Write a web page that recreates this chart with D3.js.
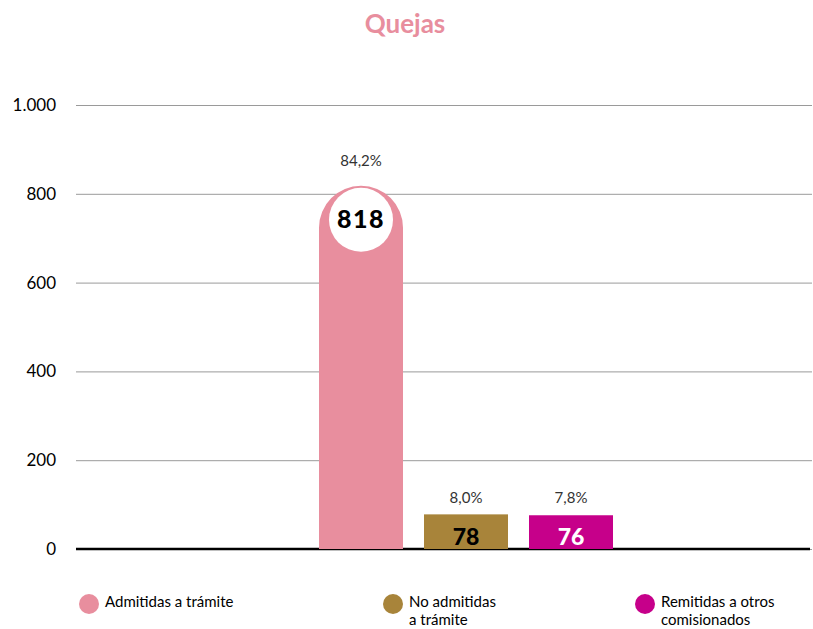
<!DOCTYPE html>
<html>
<head>
<meta charset="utf-8">
<script src="https://cdn.jsdelivr.net/npm/d3@7"></script>
<style>
  body { margin: 0; background: #fff; }
  text { font-family: Lato, "Open Sans", sans-serif; }
</style>
</head>
<body>
<div id="chart"></div>
<script>
const width = 813
const height = 629
const margins = ({ top: 105, right: 1, bottom: 80, left: 76 })

const categories = ["Admitidas a trámite", "No admitidas a trámite", "Remitidas a otros comisionados"]
const legendLines = [["Admitidas a trámite"], ["No admitidas", "a trámite"], ["Remitidas a otros", "comisionados"]]
const values = [818, 78, 76]
const percents = ["84,2%", "8,0%", "7,8%"]
const colors = ["#E88E9E", "#A8843A", "#C6008A"]
const labelColors = ["#000", "#000", "#fff"]
const yTicks = [0, 200, 400, 600, 800, 1000]

const svg = d3.select("#chart")
    .append("svg")
    .attr("width", width)
    .attr("height", height)

const y = d3.scaleLinear()
    .domain([0, 1000])
    .range([height - margins.bottom, margins.top])

const x = d3.scaleBand()
    .domain(categories)
    .range([319, 613])
    .paddingInner(0.2)

// title
svg.append("text")
    .text("Quejas")
    .attr("x", 405)
    .attr("y", 33)
    .attr("text-anchor", "middle")
    .attr("font-size", 26)
    .attr("font-weight", "bold")
    .attr("fill", "#E88E9E")

// grid + ticks
const yAxis = d3.axisLeft(y)
    .tickValues(yTicks)
    .tickSize(-(width - margins.left - margins.right))
    .tickPadding(20)
    .tickFormat(d => d3.format(",")(d).replace(/,/g, "."))

const axisG = svg.append("g")
    .attr("transform", `translate(${margins.left},0)`)
    .call(yAxis)
axisG.select(".domain").remove()
axisG.selectAll(".tick line")
    .attr("stroke", "#9a9a9a")
    .attr("stroke-width", 1)
axisG.selectAll(".tick text")
    .attr("font-size", 17)
    .attr("fill", "#000")
    .attr("font-family", "Lato, sans-serif")

// baseline
svg.append("line")
    .attr("x1", margins.left)
    .attr("x2", width - 3)
    .attr("y1", y(0))
    .attr("y2", y(0))
    .attr("stroke", "#000")
    .attr("stroke-width", 2.5)

// bars
const bw = x.bandwidth()
categories.forEach((c, i) => {
    const x0 = x(c)
    const top = y(values[i])
    const base = y(0)
    if (i === 0) {
        const r = bw / 2
        const p = d3.path()
        p.moveTo(x0, base)
        p.lineTo(x0, top + r)
        p.arc(x0 + r, top + r, r, Math.PI, 0)
        p.lineTo(x0 + bw, base)
        p.closePath()
        svg.append("path")
            .attr("d", p.toString())
            .attr("fill", colors[i])
        svg.append("circle")
            .attr("cx", x0 + r)
            .attr("cy", top + r - 8)
            .attr("r", 32)
            .attr("fill", "#fff")
        svg.append("text")
            .text(values[i])
            .attr("x", x0 + r)
            .attr("y", top + r)
            .attr("text-anchor", "middle")
            .attr("font-size", 25)
            .attr("font-weight", 900)
            .attr("letter-spacing", 1.5)
            .attr("fill", labelColors[i])
        svg.append("text")
            .text(percents[i])
            .attr("x", x0 + r)
            .attr("y", top - 20)
            .attr("text-anchor", "middle")
            .attr("font-size", 15)
            .attr("fill", "#333")
    } else {
        svg.append("rect")
            .attr("x", x0)
            .attr("y", top)
            .attr("width", bw)
            .attr("height", base - top)
            .attr("fill", colors[i])
        svg.append("text")
            .text(values[i])
            .attr("x", x0 + bw / 2)
            .attr("y", base - 4)
            .attr("text-anchor", "middle")
            .attr("font-size", 23)
            .attr("font-weight", 900)
            .attr("fill", labelColors[i])
        svg.append("text")
            .text(percents[i])
            .attr("x", x0 + bw / 2)
            .attr("y", 503)
            .attr("text-anchor", "middle")
            .attr("font-size", 15)
            .attr("fill", "#333")
    }
})

// legend
const legendX = [89, 393, 645]
const legend = svg.append("g")
legendLines.forEach((lines, i) => {
    legend.append("circle")
        .attr("cx", legendX[i])
        .attr("cy", 604)
        .attr("r", 10)
        .attr("fill", colors[i])
    lines.forEach((l, j) => {
        legend.append("text")
            .text(l)
            .attr("x", legendX[i] + 16)
            .attr("y", 607 + j * 18)
            .attr("font-size", 15)
            .attr("fill", "#000")
    })
})
</script>
</body>
</html>
